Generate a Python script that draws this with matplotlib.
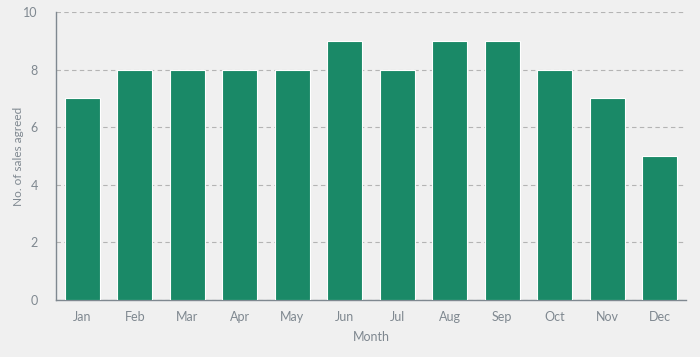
import matplotlib.pyplot as plt

months = ["Jan", "Feb", "Mar", "Apr", "May", "Jun", "Jul", "Aug", "Sep", "Oct", "Nov", "Dec"]
sales = [7, 8, 8, 8, 8, 9, 8, 9, 9, 8, 7, 5]

plt.rcParams['font.family'] = ['Lato', 'DejaVu Sans']
bg = '#f0f0f0'
grey = '#7f8890'

fig = plt.figure(figsize=(7, 3.57), dpi=100, facecolor=bg)
ax = fig.add_axes([0.08, 0.16, 0.90, 0.806], facecolor=bg)

ax.bar(range(len(months)), sales, width=0.66, color='#1a8967', edgecolor='white', linewidth=0.8, zorder=3)

ax.set_xlim(-0.5, 11.5)
ax.set_ylim(0, 10)
ax.set_xticks(range(len(months)))
ax.set_xticklabels(months)
ax.set_yticks([0, 2, 4, 6, 8, 10])
ax.tick_params(length=0, colors=grey, labelsize=9, pad=8)
ax.tick_params(axis='y', pad=13)
ax.yaxis.grid(True, linestyle=(0, (4, 3)), color='#b4b4b4', linewidth=0.8, zorder=0)

for side in ['top', 'right']:
    ax.spines[side].set_visible(False)
for side in ['left', 'bottom']:
    ax.spines[side].set_color(grey)
    ax.spines[side].set_linewidth(1)

ax.set_xlabel('Month', color=grey, fontsize=9, labelpad=6)
ax.set_ylabel('No. of sales agreed', color=grey, fontsize=8.5)
ax.yaxis.set_label_coords(-0.051, 0.5)

fig.savefig('out.png', dpi=100, facecolor=bg)
